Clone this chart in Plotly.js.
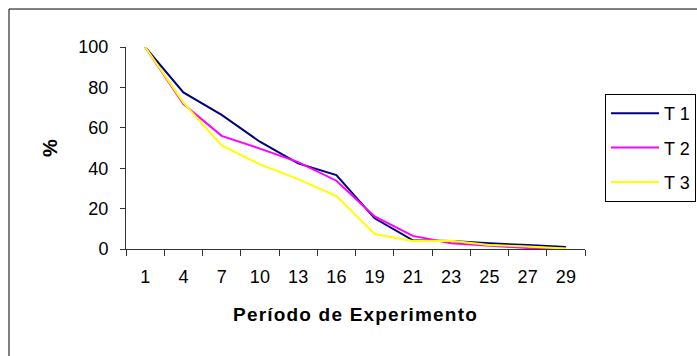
<!DOCTYPE html>
<html>
<head>
<meta charset="utf-8">
<script src="https://cdn.plot.ly/plotly-3.0.1.min.js"></script>
<style>
  html, body { margin: 0; padding: 0; background: #fff; overflow: hidden; }
  #chart { width: 697px; height: 356px; }
  #chart .xtitle { letter-spacing: 1.2px; }
</style>
</head>
<body>
<div id="chart"></div>
<script>
// Períodos do experimento (eixo X, categórico)
const periodos = ['1', '4', '7', '10', '13', '16', '19', '21', '23', '25', '27', '29'];

// Percentual remanescente por tratamento
const t1 = [100, 77.5, 66.4, 53.1, 42.4, 36.6, 15.2, 4.3, 4.0, 2.8, 2.0, 1.0];
const t2 = [100, 71.8, 56.0, 49.7, 43.0, 33.8, 16.1, 6.5, 2.8, 1.7, 0.5, 0.3];
const t3 = [100, 72.5, 51.3, 41.9, 34.6, 26.2, 7.4, 4.0, 4.1, 2.0, 1.2, 0.2];

const nomes = ['T 1', 'T 2', 'T 3'];
const cores = ['#000080', '#FF00FF', '#FFFF00'];
const yTicks = [0, 20, 40, 60, 80, 100];

const FONT = 'Liberation Sans, Arial, Helvetica, sans-serif';

const series = [t1, t2, t3];
const traces = series.map((vals, i) => ({
  type: 'scatter',
  mode: 'lines',
  x: periodos,
  y: vals,
  name: nomes[i],
  legendgroup: 'g' + i,
  line: { color: cores[i], width: 2 },
  cliponaxis: false,
  hoverinfo: 'x+y+name'
}));

const layout = {
  width: 697,
  height: 356,
  margin: { l: 126, r: 112, t: 47, b: 107, autoexpand: false },
  paper_bgcolor: '#fff',
  plot_bgcolor: '#fff',
  font: { family: FONT, size: 18, color: '#000' },
  showlegend: true,
  legend: {
    x: 1.0436,
    y: 0.7673,
    xanchor: 'left',
    yanchor: 'top',
    bordercolor: '#000',
    borderwidth: 1,
    bgcolor: '#fff',
    itemwidth: 48,
    font: { family: FONT, size: 18, color: '#000' },
    tracegroupgap: 8
  },
  xaxis: {
    type: 'category',
    range: [-0.5, 11.5],
    tickson: 'boundaries',
    ticks: 'outside',
    ticklen: 6,
    tickcolor: '#333',
    showline: true,
    linecolor: '#333',
    linewidth: 1,
    showgrid: false,
    zeroline: false,
    ticklabelstandoff: 11,
    tickfont: { family: FONT, size: 18, color: '#000' },
    title: {
      text: '<b>Período de Experimento</b>',
      font: { family: FONT, size: 19, color: '#000' },
      standoff: 22
    },
    fixedrange: true
  },
  yaxis: {
    range: [0, 100],
    tickmode: 'array',
    tickvals: yTicks,
    ticktext: yTicks.map(String),
    ticks: 'outside',
    ticklen: 5,
    tickcolor: '#333',
    showline: true,
    linecolor: '#333',
    linewidth: 1,
    showgrid: false,
    zeroline: false,
    ticklabelstandoff: 8,
    tickfont: { family: FONT, size: 18, color: '#000' },
    title: {
      text: '<b>%</b>',
      font: { family: FONT, size: 20, color: '#000' },
      standoff: 15
    },
    fixedrange: true
  },
  shapes: [{
    // moldura da área do gráfico
    type: 'rect',
    xref: 'paper', yref: 'paper',
    x0: -0.2549, x1: 1.35,
    y0: -0.6, y1: 1.188,
    line: { color: '#000', width: 1 },
    fillcolor: 'rgba(0,0,0,0)',
    layer: 'below'
  }]
};

Plotly.newPlot('chart', traces, layout, { displayModeBar: false, staticPlot: true });
</script>
</body>
</html>
